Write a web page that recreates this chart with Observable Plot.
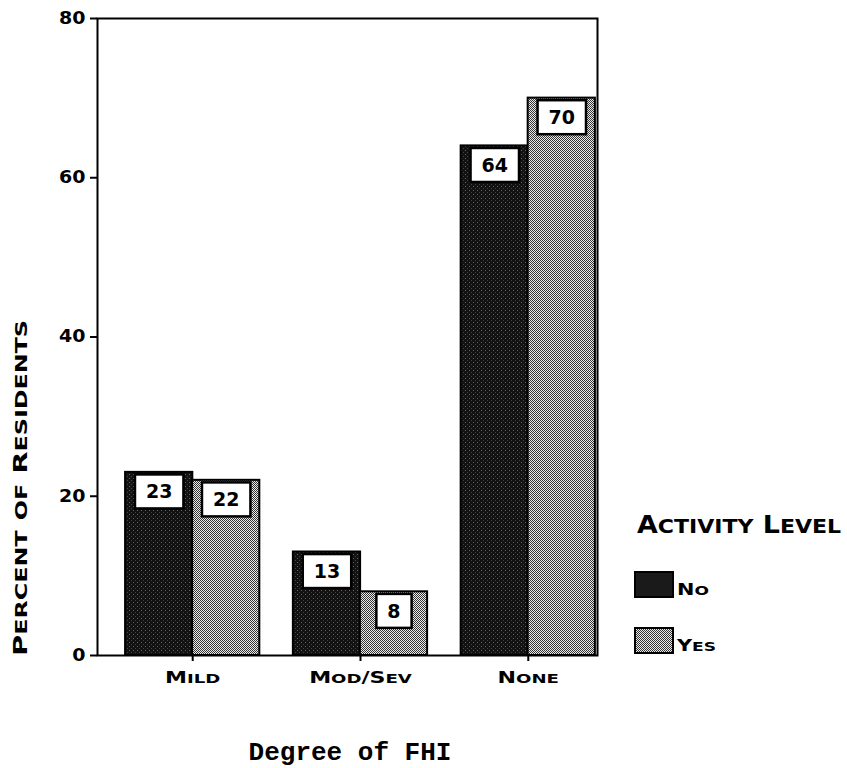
<!DOCTYPE html>
<html>
<head>
<meta charset="utf-8">
<script src="https://cdn.jsdelivr.net/npm/d3@7"></script>
<script src="https://cdn.jsdelivr.net/npm/@observablehq/plot@0.6"></script>
<style>
  html, body { margin: 0; padding: 0; background: #fff; }
  #chart { position: relative; width: 847px; height: 768px; overflow: hidden; background: #fff; }
  #chart svg { position: absolute; left: 0; top: 0; }
  .sc { font-family: "DejaVu Sans", sans-serif; font-weight: bold; color: #000; white-space: nowrap; }
  g[aria-label^="y-axis"] text { font-size: 17px; }
  g[aria-label^="x-axis"] text { font-size: 16px; }
  g[aria-label^="y-axis"] path, g[aria-label^="y-axis"] line,
  g[aria-label^="x-axis"] path, g[aria-label^="x-axis"] line { stroke-width: 2; }
  .ylabel { position: absolute; left: -150px; top: 476px; width: 340px; height: 24px; line-height: 24px;
            text-align: center; font-size: 20px; transform: rotate(-90deg) scaleX(1.45); }
  .xlabel { position: absolute; left: 150px; top: 740px; width: 400px; text-align: center;
            font-family: "Liberation Mono", monospace; font-weight: bold; font-size: 26px; line-height: 26px; }
  .legend-title { position: absolute; left: 637px; top: 513px; font-size: 24px; line-height: 24px;
                  transform: scaleX(1.12); transform-origin: 0 50%; }
  .swatch { position: absolute; left: 634px; width: 36px; height: 23px; border: 2px solid #000; }
  .swatch.no { top: 571px; background: #1a1a1a; }
  .swatch.yes { top: 627px; background: repeating-conic-gradient(#333 0 25%, #ececec 0 50%) 0 0 / 2px 2px; }
  .swatch-label { position: absolute; left: 677px; font-size: 16px; line-height: 18px;
                  transform: scaleX(1.3); transform-origin: 0 50%; }
</style>
</head>
<body>
<div id="chart">
  <div class="sc ylabel" data-sc="Percent of Residents" data-size="20"></div>
  <div class="xlabel">Degree of FHI</div>
  <div class="sc legend-title" data-sc="Activity Level" data-size="24"></div>
  <div class="swatch no"></div><div class="sc swatch-label" style="top:581px" data-sc="No" data-size="16"></div>
  <div class="swatch yes"></div><div class="sc swatch-label" style="top:637px" data-sc="Yes" data-size="16"></div>
</div>
<script>
// Degree of FHI categories and percent of residents by activity level
const degrees = ["Mild", "Mod/Sev", "None"];
const activityLevels = ["No", "Yes"];
const noValues = [23, 13, 64];
const yesValues = [22, 8, 70];
const yTicks = [0, 20, 40, 60, 80];

const rows = degrees.flatMap((d, i) => [
  {degree: d, level: activityLevels[0], pct: noValues[i]},
  {degree: d, level: activityLevels[1], pct: yesValues[i]}
]);
const noRows = rows.filter(r => r.level === "No");
const yesRows = rows.filter(r => r.level === "Yes");

const half = 67; // each bar takes half of a category band
const SMALL = 0.82; // small-capital size relative to capitals

const chart = Plot.plot({
  width: 847,
  height: 700,
  marginTop: 18,
  marginBottom: 45,
  marginLeft: 97,
  marginRight: 250,
  style: {
    fontFamily: "DejaVu Sans, sans-serif",
    fontWeight: "bold",
    fontSize: "16px",
    color: "#000",
    background: "transparent"
  },
  x: {
    domain: degrees,
    paddingInner: 0.2,
    paddingOuter: 0.09,
    align: 0.93,
    round: false,
    label: null,
    tickSize: 6,
    tickPadding: 10
  },
  y: {
    domain: [yTicks[0], yTicks[yTicks.length - 1]],
    ticks: yTicks.length - 1,
    label: null,
    tickSize: 7,
    tickPadding: 5
  },
  marks: [
    Plot.barY(noRows, {x: "degree", y: "pct", insetLeft: 0, insetRight: half,
      fill: "url(#fill-no)", stroke: "#000", strokeWidth: 2}),
    Plot.barY(yesRows, {x: "degree", y: "pct", insetLeft: half, insetRight: 0,
      fill: "url(#fill-yes)", stroke: "#000", strokeWidth: 2}),
    Plot.text(rows, {x: "degree", y: "pct", text: d => String(d.pct),
      fontSize: 19, fontWeight: "bold", fill: "#000", lineAnchor: "middle"}),
    Plot.frame({stroke: "#000", strokeWidth: 2})
  ]
});

// Textured fills for the two activity levels
const ns = "http://www.w3.org/2000/svg";
const defs = document.createElementNS(ns, "defs");
defs.innerHTML = `
  <pattern id="fill-no" width="4" height="4" patternUnits="userSpaceOnUse">
    <rect width="4" height="4" fill="#121212"/>
    <rect x="1" y="2" width="1" height="1" fill="#666"/>
    <rect x="3" y="0" width="1" height="1" fill="#444"/>
  </pattern>
  <pattern id="fill-yes" width="2" height="2" patternUnits="userSpaceOnUse">
    <rect width="2" height="2" fill="#ececec"/>
    <rect x="0" y="0" width="1" height="1" fill="#333"/>
    <rect x="1" y="1" width="1" height="1" fill="#333"/>
  </pattern>`;
chart.insertBefore(defs, chart.firstChild);

document.getElementById("chart").appendChild(chart);

// Small capitals: capital letters full size, lowercase letters as smaller capitals
function smallCapsParts(text) {
  const parts = [];
  for (const ch of text) {
    const big = ch !== ch.toLowerCase() || ch.toUpperCase() === ch.toLowerCase();
    const last = parts[parts.length - 1];
    if (last && last.big === big) last.t += ch.toUpperCase();
    else parts.push({t: ch.toUpperCase(), big});
  }
  return parts;
}
document.querySelectorAll("[data-sc]").forEach(el => {
  const size = +el.dataset.size;
  smallCapsParts(el.dataset.sc).forEach(p => {
    const s = document.createElement("span");
    s.textContent = p.t;
    s.style.fontSize = (p.big ? size : size * SMALL) + "px";
    el.appendChild(s);
  });
});

// Stretch a tick label horizontally about its anchor point
function stretch(t, k) {
  let tr = t.getAttribute("transform");
  if (!tr) {
    const x = +t.getAttribute("x") || 0, y = +t.getAttribute("y") || 0;
    t.removeAttribute("x"); t.removeAttribute("y");
    tr = `translate(${x},${y})`;
  }
  t.setAttribute("transform", `${tr} scale(${k},1)`);
}
chart.querySelectorAll('g[aria-label^="x-axis"] text').forEach(t => {
  const label = t.textContent;
  t.textContent = "";
  smallCapsParts(label).forEach(p => {
    const s = document.createElementNS(ns, "tspan");
    s.textContent = p.t;
    s.style.fontSize = (p.big ? 16 : 16 * SMALL) + "px";
    t.appendChild(s);
  });
  stretch(t, 1.38);
});
chart.querySelectorAll('g[aria-label^="y-axis"] text').forEach(t => stretch(t, 1.12));

// Place each value label near its bar top, inside a white box
const labelTexts = chart.querySelectorAll('g[aria-label="text"] text');
labelTexts.forEach((t, i) => {
  t.setAttribute("dx", rows[i].level === "No" ? -33.5 : 33.5);
  t.setAttribute("dy", 20);
});
labelTexts.forEach(t => {
  const b = t.getBBox();
  const box = document.createElementNS(ns, "rect");
  const tr = t.getAttribute("transform");
  if (tr) box.setAttribute("transform", tr);
  box.setAttribute("x", b.x - 11);
  box.setAttribute("y", b.y + b.height / 2 - 17);
  box.setAttribute("width", b.width + 22);
  box.setAttribute("height", 34);
  box.setAttribute("fill", "#fff");
  box.setAttribute("stroke", "#000");
  box.setAttribute("stroke-width", 2.5);
  t.parentNode.insertBefore(box, t);
});
</script>
</body>
</html>
